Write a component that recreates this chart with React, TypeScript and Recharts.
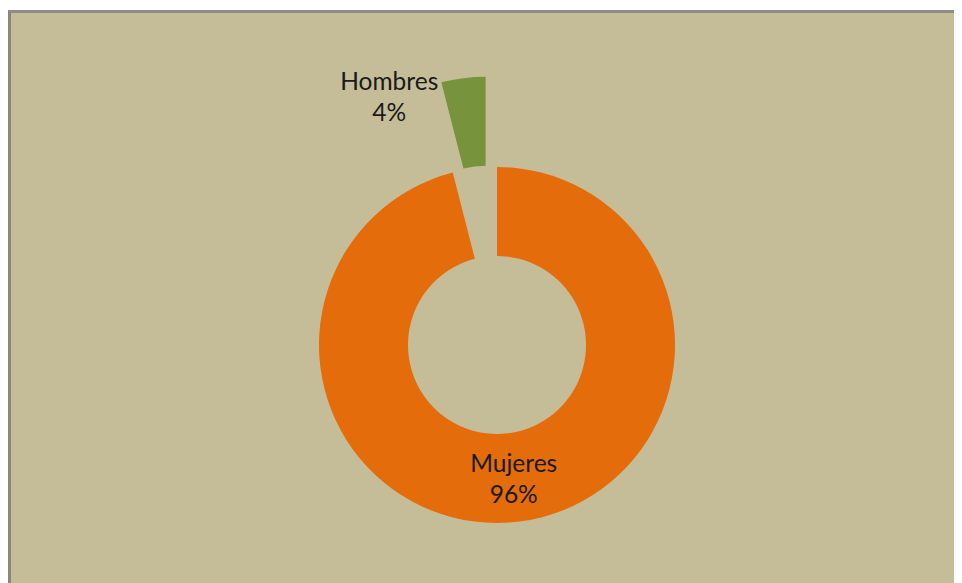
import React from 'react';
import { PieChart, Pie, Cell } from 'recharts';

const categories = ['Mujeres', 'Hombres'];
const values = [96, 4];
const percentLabels = ['96%', '4%'];

const data = categories.map((name, i) => ({ name, value: values[i], pct: percentLabels[i] }));

const ORANGE = '#E46C0A';
const GREEN = '#77933C';
const BG = '#C4BD97';
const RADIAN = Math.PI / 180;

const CX = 486;
const CY = 332;
// Hombres slice pulled out along its bisector
const EXPLODE = 91;
const OUTER = 178;
const INNER = 89;

const textStyle = { fontFamily: 'Lato, "Open Sans", sans-serif', fontSize: 24.5, fill: '#1a1a1a' };

const renderMujeres = (props: any) => {
  if (props.index !== 0) return null;
  const r = (props.innerRadius + props.outerRadius) / 2;
  const x = props.cx + r * Math.cos(-props.midAngle * RADIAN);
  const y = props.cy + r * Math.sin(-props.midAngle * RADIAN);
  return (
    <g>
      <text x={x} y={y - 5} textAnchor="middle" style={textStyle}>{props.name}</text>
      <text x={x} y={y + 26} textAnchor="middle" style={textStyle}>{props.payload.pct}</text>
    </g>
  );
};

const renderHombres = (props: any) => {
  if (props.index !== 1) return null;
  const x = props.cx + props.outerRadius * Math.cos(-props.midAngle * RADIAN) - 74;
  const y = props.cy + props.outerRadius * Math.sin(-props.midAngle * RADIAN);
  return (
    <g>
      <text x={x} y={y + 12} textAnchor="middle" style={textStyle}>{props.name}</text>
      <text x={x} y={y + 43} textAnchor="middle" style={textStyle}>{props.payload.pct}</text>
    </g>
  );
};

// bisector of the Hombres slice
const mid = 90 + (values[1] / 100) * 360 / 2;
const ex = CX + EXPLODE * Math.cos(mid * RADIAN);
const ey = CY - EXPLODE * Math.sin(mid * RADIAN);

const App: React.FC = () => {
  return (
    <div
      style={{
        marginTop: 2,
        width: 951,
        height: 570,
        background: BG,
        borderTop: '3px solid #8c8c8c',
        borderLeft: '3px solid #8a877a',
      }}
    >
      <PieChart width={951} height={570} margin={{ top: 0, right: 0, bottom: 0, left: 0 }}>
        <Pie
          data={data}
          dataKey="value"
          nameKey="name"
          cx={CX}
          cy={CY}
          innerRadius={INNER}
          outerRadius={OUTER}
          startAngle={90}
          endAngle={-270}
          stroke="none"
          labelLine={false}
          label={renderMujeres}
          isAnimationActive={false}
        >
          <Cell fill={ORANGE} />
          <Cell fill="none" />
        </Pie>
        <Pie
          data={data}
          dataKey="value"
          nameKey="name"
          cx={ex}
          cy={ey}
          innerRadius={INNER}
          outerRadius={OUTER}
          startAngle={90}
          endAngle={-270}
          stroke="none"
          labelLine={false}
          label={renderHombres}
          isAnimationActive={false}
        >
          <Cell fill="none" />
          <Cell fill={GREEN} />
        </Pie>
      </PieChart>
    </div>
  );
};

export default App;
